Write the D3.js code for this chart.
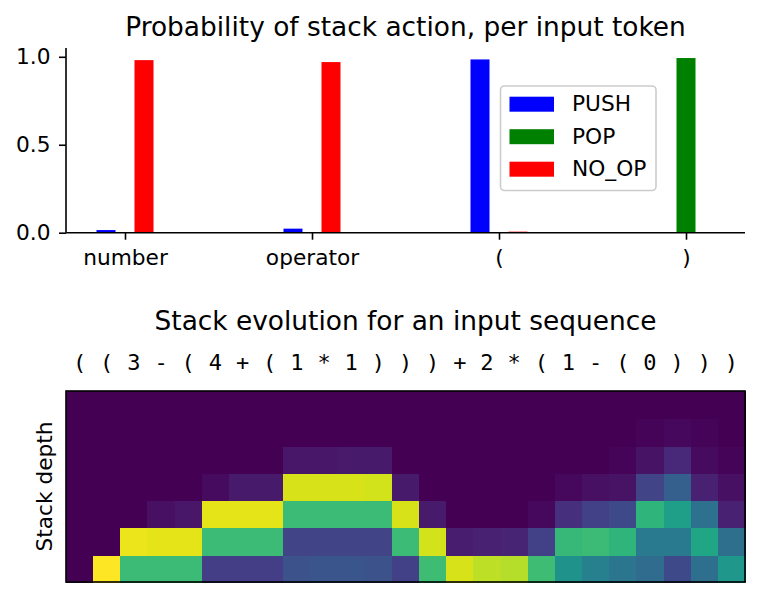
<!DOCTYPE html>
<html>
<head>
<meta charset="utf-8">
<script src="https://cdn.jsdelivr.net/npm/d3@7"></script>
<style>
  html, body { margin: 0; padding: 0; background: #fff; }
  svg { display: block; font-family: "DejaVu Sans", sans-serif; }
</style>
</head>
<body>
<svg id="chart" width="761" height="598"></svg>
<script>
// ---------------- data ----------------
const categories = ["number", "operator", "(", ")"];
const seriesNames = ["PUSH", "POP", "NO_OP"];
const seriesColors = ["#0000ff", "#008000", "#ff0000"];
const pushProb = [0.015, 0.023, 0.985, 0.0];
const popProb = [0.0, 0.0, 0.0, 0.993];
const noopProb = [0.981, 0.970, 0.006, 0.0];
const yTicks = [0.0, 0.5, 1.0];

const tokens = ["(", "(", "3", "-", "(", "4", "+", "(", "1", "*", "1", ")", ")", ")", "+", "2", "*", "(", "1", "-", "(", "0", ")", ")", ")"];
// stack depth rows, depth1 (bottom) .. depth7 (top); one value per token
const depth1 = [0, 1.0, 0.68, 0.68, 0.68, 0.18, 0.18, 0.18, 0.25, 0.26, 0.26, 0.25, 0.19, 0.69, 0.94, 0.9, 0.89, 0.69, 0.51, 0.43, 0.39, 0.35, 0.22, 0.36, 0.53];
const depth2 = [0, 0, 0.97, 0.96, 0.96, 0.68, 0.68, 0.68, 0.2, 0.2, 0.2, 0.2, 0.68, 0.93, 0.08, 0.09, 0.1, 0.19, 0.67, 0.68, 0.65, 0.41, 0.41, 0.59, 0.36];
const depth3 = [0, 0, 0, 0.04, 0.06, 0.96, 0.96, 0.96, 0.68, 0.68, 0.68, 0.68, 0.94, 0.07, 0, 0, 0, 0.02, 0.14, 0.19, 0.22, 0.65, 0.56, 0.37, 0.09];
const depth4 = [0, 0, 0, 0, 0, 0.03, 0.07, 0.07, 0.94, 0.94, 0.94, 0.93, 0.07, 0, 0, 0, 0, 0, 0.02, 0.04, 0.05, 0.2, 0.3, 0.09, 0.04];
const depth5 = [0, 0, 0, 0, 0, 0, 0, 0, 0.06, 0.06, 0.07, 0.07, 0, 0, 0, 0, 0, 0, 0, 0, 0.01, 0.05, 0.11, 0.03, 0.01];
const depth6 = [0, 0, 0, 0, 0, 0, 0, 0, 0, 0, 0, 0, 0, 0, 0, 0, 0, 0, 0, 0, 0, 0.01, 0.02, 0.01, 0];
const depth7 = [0, 0, 0, 0, 0, 0, 0, 0, 0, 0, 0, 0, 0, 0, 0, 0, 0, 0, 0, 0, 0, 0, 0, 0, 0];
const stackRows = [depth1, depth2, depth3, depth4, depth5, depth6, depth7];

// ---------------- drawing ----------------
const svg = d3.select("#chart");
const FS = 21.7;
const TFS = 26.4;

// ===== Top bar chart =====
const bc = { left: 66, right: 745, top: 48, bottom: 232.7 };
const x = d3.scalePoint().domain(categories).range([bc.left, bc.right]).padding(0.3155);
const y = d3.scaleLinear().domain([0, 1.05]).range([bc.bottom, bc.top]);
const xInner = d3.scaleBand().domain(seriesNames).range([-28.5, 28.5]);
const seriesValues = [pushProb, popProb, noopProb];

svg.append("text")
  .attr("x", (bc.left + bc.right) / 2).attr("y", 35.5)
  .attr("text-anchor", "middle").attr("font-size", TFS)
  .text("Probability of stack action, per input token");

const barData = [];
categories.forEach((c, ci) => {
  seriesNames.forEach((s, si) => {
    barData.push({ cat: c, series: s, value: seriesValues[si][ci], color: seriesColors[si] });
  });
});
svg.append("g").selectAll("rect").data(barData).join("rect")
  .attr("x", d => x(d.cat) + xInner(d.series))
  .attr("width", xInner.bandwidth())
  .attr("y", d => y(d.value))
  .attr("height", d => y(0) - y(d.value))
  .attr("fill", d => d.color);

const yAxis = svg.append("g").attr("transform", `translate(${bc.left},0)`)
  .call(d3.axisLeft(y).tickValues(yTicks).tickFormat(d3.format(".1f")).tickSize(7).tickPadding(8.5));
yAxis.select(".domain").attr("d", `M0,${bc.top}V${bc.bottom}`);
const xAxis = svg.append("g").attr("transform", `translate(0,${bc.bottom})`)
  .call(d3.axisBottom(x).tickSize(7).tickPadding(9.5));
xAxis.select(".domain").attr("d", `M${bc.left},0H${bc.right}`);
[yAxis, xAxis].forEach(a => {
  a.selectAll("text").attr("font-size", FS).attr("font-family", "DejaVu Sans").attr("fill", "#000");
  a.selectAll("line").attr("stroke", "#000").attr("stroke-width", 1.6);
  a.select(".domain").attr("stroke", "#000").attr("stroke-width", 1.6);
});

// legend
const legend = svg.append("g");
legend.append("rect").attr("x", 500.5).attr("y", 86).attr("width", 155.5).attr("height", 104.5)
  .attr("rx", 4).attr("fill", "#fff").attr("fill-opacity", 0.8)
  .attr("stroke", "#cccccc").attr("stroke-width", 1.6);
seriesNames.forEach((s, i) => {
  const yy = 96.7 + i * 32.5;
  legend.append("rect").attr("x", 509.5).attr("y", yy).attr("width", 44.5).attr("height", 15)
    .attr("fill", seriesColors[i]);
  legend.append("text").attr("x", 572).attr("y", yy + 14.5).attr("font-size", FS).text(s);
});

// ===== Bottom heatmap =====
const hm = { left: 66, right: 745, top: 391, bottom: 582 };
const hx = d3.scaleBand().domain(d3.range(tokens.length)).range([hm.left, hm.right]);
const hy = d3.scaleBand().domain(d3.range(stackRows.length)).range([hm.bottom, hm.top]);
const color = d3.scaleSequential(d3.interpolateViridis).domain([0, 1]);

svg.append("text")
  .attr("x", (hm.left + hm.right) / 2).attr("y", 330)
  .attr("text-anchor", "middle").attr("font-size", TFS)
  .text("Stack evolution for an input sequence");

svg.append("g").selectAll("text").data(tokens).join("text")
  .attr("x", (d, i) => hx(i) + hx.bandwidth() / 2)
  .attr("y", 370)
  .attr("text-anchor", "middle")
  .attr("font-family", "DejaVu Sans Mono")
  .attr("font-size", 22)
  .text(d => d);

const cells = [];
stackRows.forEach((row, r) => row.forEach((v, c) => cells.push({ r, c, v })));
svg.append("g").attr("shape-rendering", "crispEdges")
  .selectAll("rect").data(cells).join("rect")
  .attr("x", d => hx(d.c))
  .attr("y", d => hy(d.r))
  .attr("width", hx.bandwidth() + 1)
  .attr("height", hy.bandwidth() + 1)
  .attr("fill", d => color(d.v));

svg.append("rect").attr("x", hm.left).attr("y", hm.top)
  .attr("width", hm.right - hm.left).attr("height", hm.bottom - hm.top)
  .attr("fill", "none").attr("stroke", "#000").attr("stroke-width", 1.6);

svg.append("text")
  .attr("transform", `translate(52,${(hm.top + hm.bottom) / 2}) rotate(-90)`)
  .attr("text-anchor", "middle").attr("font-size", FS)
  .text("Stack depth");
</script>
</body>
</html>
